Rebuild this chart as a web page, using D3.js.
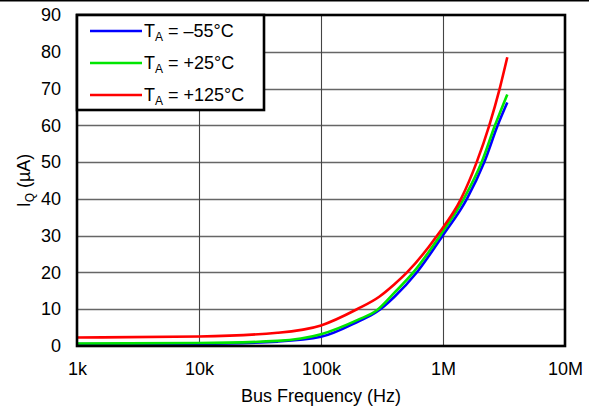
<!DOCTYPE html>
<html>
<head>
<meta charset="utf-8">
<script src="https://cdn.jsdelivr.net/npm/d3@7"></script>
<style>
body { margin: 0; background: white; }
text { font-family: "Liberation Sans", Arial, sans-serif; fill: #000; }
</style>
</head>
<body>
<svg id="chart"></svg>
<script>
var w = 589, h = 409;
var left = 77, right = 565, top_y = 15, bottom = 346;

// bus frequency (Hz) and quiescent current (uA)
var freq_m55 = [1e3, 1e4, 4.4e4, 1e5, 2e5, 2.87e5, 4e5, 6.09e5, 9.94e5, 1.57e6, 2.18e6, 2.808e6, 3.365e6];
var iq_m55   = [0.5, 0.6, 1.2, 2.5, 6.6, 9.3, 13.4, 20, 30, 40, 50, 60, 66.2];
var freq_p25 = [1e3, 1e4, 4.4e4, 1e5, 2e5, 2.87e5, 4e5, 5.71e5, 9.45e5, 1.48e6, 2.076e6, 2.668e6, 3.365e6];
var iq_p25   = [0.7, 0.8, 1.4, 3.2, 7.1, 9.7, 14.5, 20, 30, 40, 50, 60, 68.4];
var freq_p125 = [1e3, 1e4, 4.4e4, 1e5, 1.97e5, 3e5, 4e5, 5.07e5, 8.93e5, 1.405e6, 1.889e6, 2.396e6, 2.916e6, 3.365e6];
var iq_p125   = [2.3, 2.6, 3.6, 5.6, 10, 13.4, 16.8, 20, 30, 40, 50, 60, 70, 78.5];

var series_names = ["\u201355\u00b0C", "+25\u00b0C", "+125\u00b0C"];
var series_freq = [freq_m55, freq_p25, freq_p125];
var series_vals = [iq_m55, iq_p25, iq_p125];
var series_cols = ["rgb(0,0,255)", "rgb(0,230,0)", "rgb(255,0,0)"];

var x_ticks = [1e3, 1e4, 1e5, 1e6, 1e7];
var x_labels = ["1k", "10k", "100k", "1M", "10M"];
var y_ticks = [0, 10, 20, 30, 40, 50, 60, 70, 80, 90];

var svg = d3.select("#chart").attr("width", w).attr("height", h);

var x = d3.scaleLog().domain([1e3, 1e7]).range([left, right]);
var y = d3.scaleLinear().domain([0, 90]).range([bottom, top_y]);

// rule across the top of the page
svg.append("line").attr("x1", 0).attr("x2", w).attr("y1", 0.8).attr("y2", 0.8)
	.attr("stroke", "#000").attr("stroke-width", 1.6);

// grid
svg.append("g").selectAll("line").data(y_ticks.slice(1, -1)).enter().append("line")
	.attr("x1", left).attr("x2", right)
	.attr("y1", function(d){ return Math.round(y(d)) + 0.5; })
	.attr("y2", function(d){ return Math.round(y(d)) + 0.5; })
	.attr("stroke", "#666").attr("stroke-width", 1.3);
svg.append("g").selectAll("line").data(x_ticks.slice(1, -1)).enter().append("line")
	.attr("y1", top_y).attr("y2", bottom)
	.attr("x1", function(d){ return Math.round(x(d)) + 0.5; })
	.attr("x2", function(d){ return Math.round(x(d)) + 0.5; })
	.attr("stroke", "#444").attr("stroke-width", 1.1);

// axes (labels only, frame drawn separately)
var xAxis = d3.axisBottom(x).tickValues(x_ticks)
	.tickFormat(function(d, i){ return x_labels[i]; }).tickSize(0).tickPadding(16);
var gx = svg.append("g").attr("transform", "translate(0," + bottom + ")").call(xAxis);
gx.select(".domain").remove();
gx.selectAll("text").style("font-size", "18px").style("font-family", "Liberation Sans, Arial, sans-serif");

var yAxis = d3.axisLeft(y).tickValues(y_ticks).tickSize(0).tickPadding(16);
var gy = svg.append("g").attr("transform", "translate(" + left + ",0)").call(yAxis);
gy.select(".domain").remove();
gy.selectAll("text").style("font-size", "18px").style("font-family", "Liberation Sans, Arial, sans-serif");

// curves
var line = d3.line()
	.x(function(d){ return x(d[0]); })
	.y(function(d){ return y(d[1]); })
	.curve(d3.curveMonotoneX);

series_vals.forEach(function(vals, k){
	svg.append("path")
		.datum(series_freq[k].map(function(f, i){ return [f, vals[i]]; }))
		.attr("d", line)
		.attr("fill", "none")
		.attr("stroke", series_cols[k])
		.attr("stroke-width", 2.6);
});

// plot frame
svg.append("rect").attr("x", left).attr("y", top_y)
	.attr("width", right - left).attr("height", bottom - top_y)
	.attr("fill", "none").attr("stroke", "#000").attr("stroke-width", 2.6);

// legend
var lg = svg.append("g");
lg.append("rect").attr("x", left).attr("y", top_y).attr("width", 187).attr("height", 95)
	.attr("fill", "white").attr("stroke", "#000").attr("stroke-width", 2.6);
series_names.forEach(function(name, k){
	var ly = 31 + k * 32;
	lg.append("line").attr("x1", 90).attr("x2", 142).attr("y1", ly).attr("y2", ly)
		.attr("stroke", series_cols[k]).attr("stroke-width", 2.6);
	var t = lg.append("text").attr("x", 144).attr("y", ly + 6).style("font-size", "18px");
	t.append("tspan").text("T");
	t.append("tspan").attr("dy", 4).style("font-size", "12px").text("A");
	t.append("tspan").attr("dy", -4).text(" = " + name);
});

// axis titles
svg.append("text").attr("x", (left + right) / 2).attr("y", 402)
	.attr("text-anchor", "middle").style("font-size", "18px").text("Bus Frequency (Hz)");

var yt = svg.append("text").attr("transform", "translate(30," + ((top_y + bottom) / 2) + ") rotate(-90)")
	.attr("text-anchor", "middle").style("font-size", "18px");
yt.append("tspan").text("I");
yt.append("tspan").attr("dy", 4).style("font-size", "12px").text("Q");
yt.append("tspan").attr("dy", -4).text(" (\u00b5A)");
</script>
</body>
</html>
